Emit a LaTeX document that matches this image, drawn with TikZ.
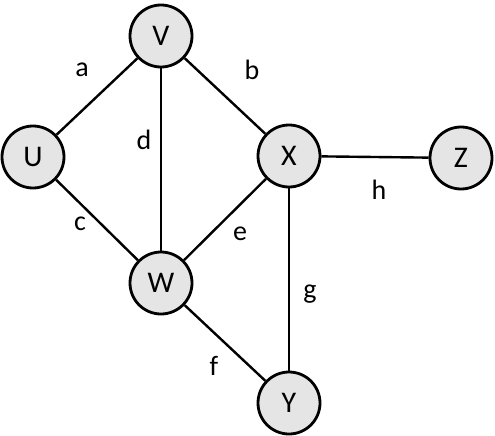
\documentclass[tikz,border=0pt]{standalone}
\usepackage{fontspec}
\setmainfont{Carlito}
\begin{document}
\begin{tikzpicture}[x=1pt,y=-1pt,
  vtx/.style={circle,draw=black,line width=2.8pt,fill=black!10,minimum size=62pt,inner sep=0pt,font=\fontsize{30}{32}\selectfont},
  edge/.style={line width=2.4pt},
  lbl/.style={font=\fontsize{28}{30}\selectfont,inner sep=0pt}]
\useasboundingbox (0,0) rectangle (495,436);
\node[vtx] (V) at (161,36) {V};
\node[vtx] (U) at (33,157) {U};
\node[vtx] (X) at (289,156) {X};
\node[vtx] (Z) at (461,158) {Z};
\node[vtx] (W) at (161,283) {W};
\node[vtx] (Y) at (289,403) {Y};
\draw[edge] (U) -- (V);
\draw[edge] (V) -- (X);
\draw[edge] (V) -- (W);
\draw[edge] (U) -- (W);
\draw[edge] (W) -- (X);
\draw[edge] (X) -- (Z);
\draw[edge] (X) -- (Y);
\draw[edge] (W) -- (Y);
\node[lbl] (la) at (82,70) {a};
\node[lbl] (lb) at (252,70) {b};
\node[lbl] (lc) at (80,224) {c};
\node[lbl] (ld) at (144,140) {d};
\node[lbl] (le) at (240,234) {e};
\node[lbl] (lf) at (214,366) {f};
\node[lbl] (lg) at (310,294) {g};
\node[lbl] (lh) at (379,190) {h};
\end{tikzpicture}
\end{document}
